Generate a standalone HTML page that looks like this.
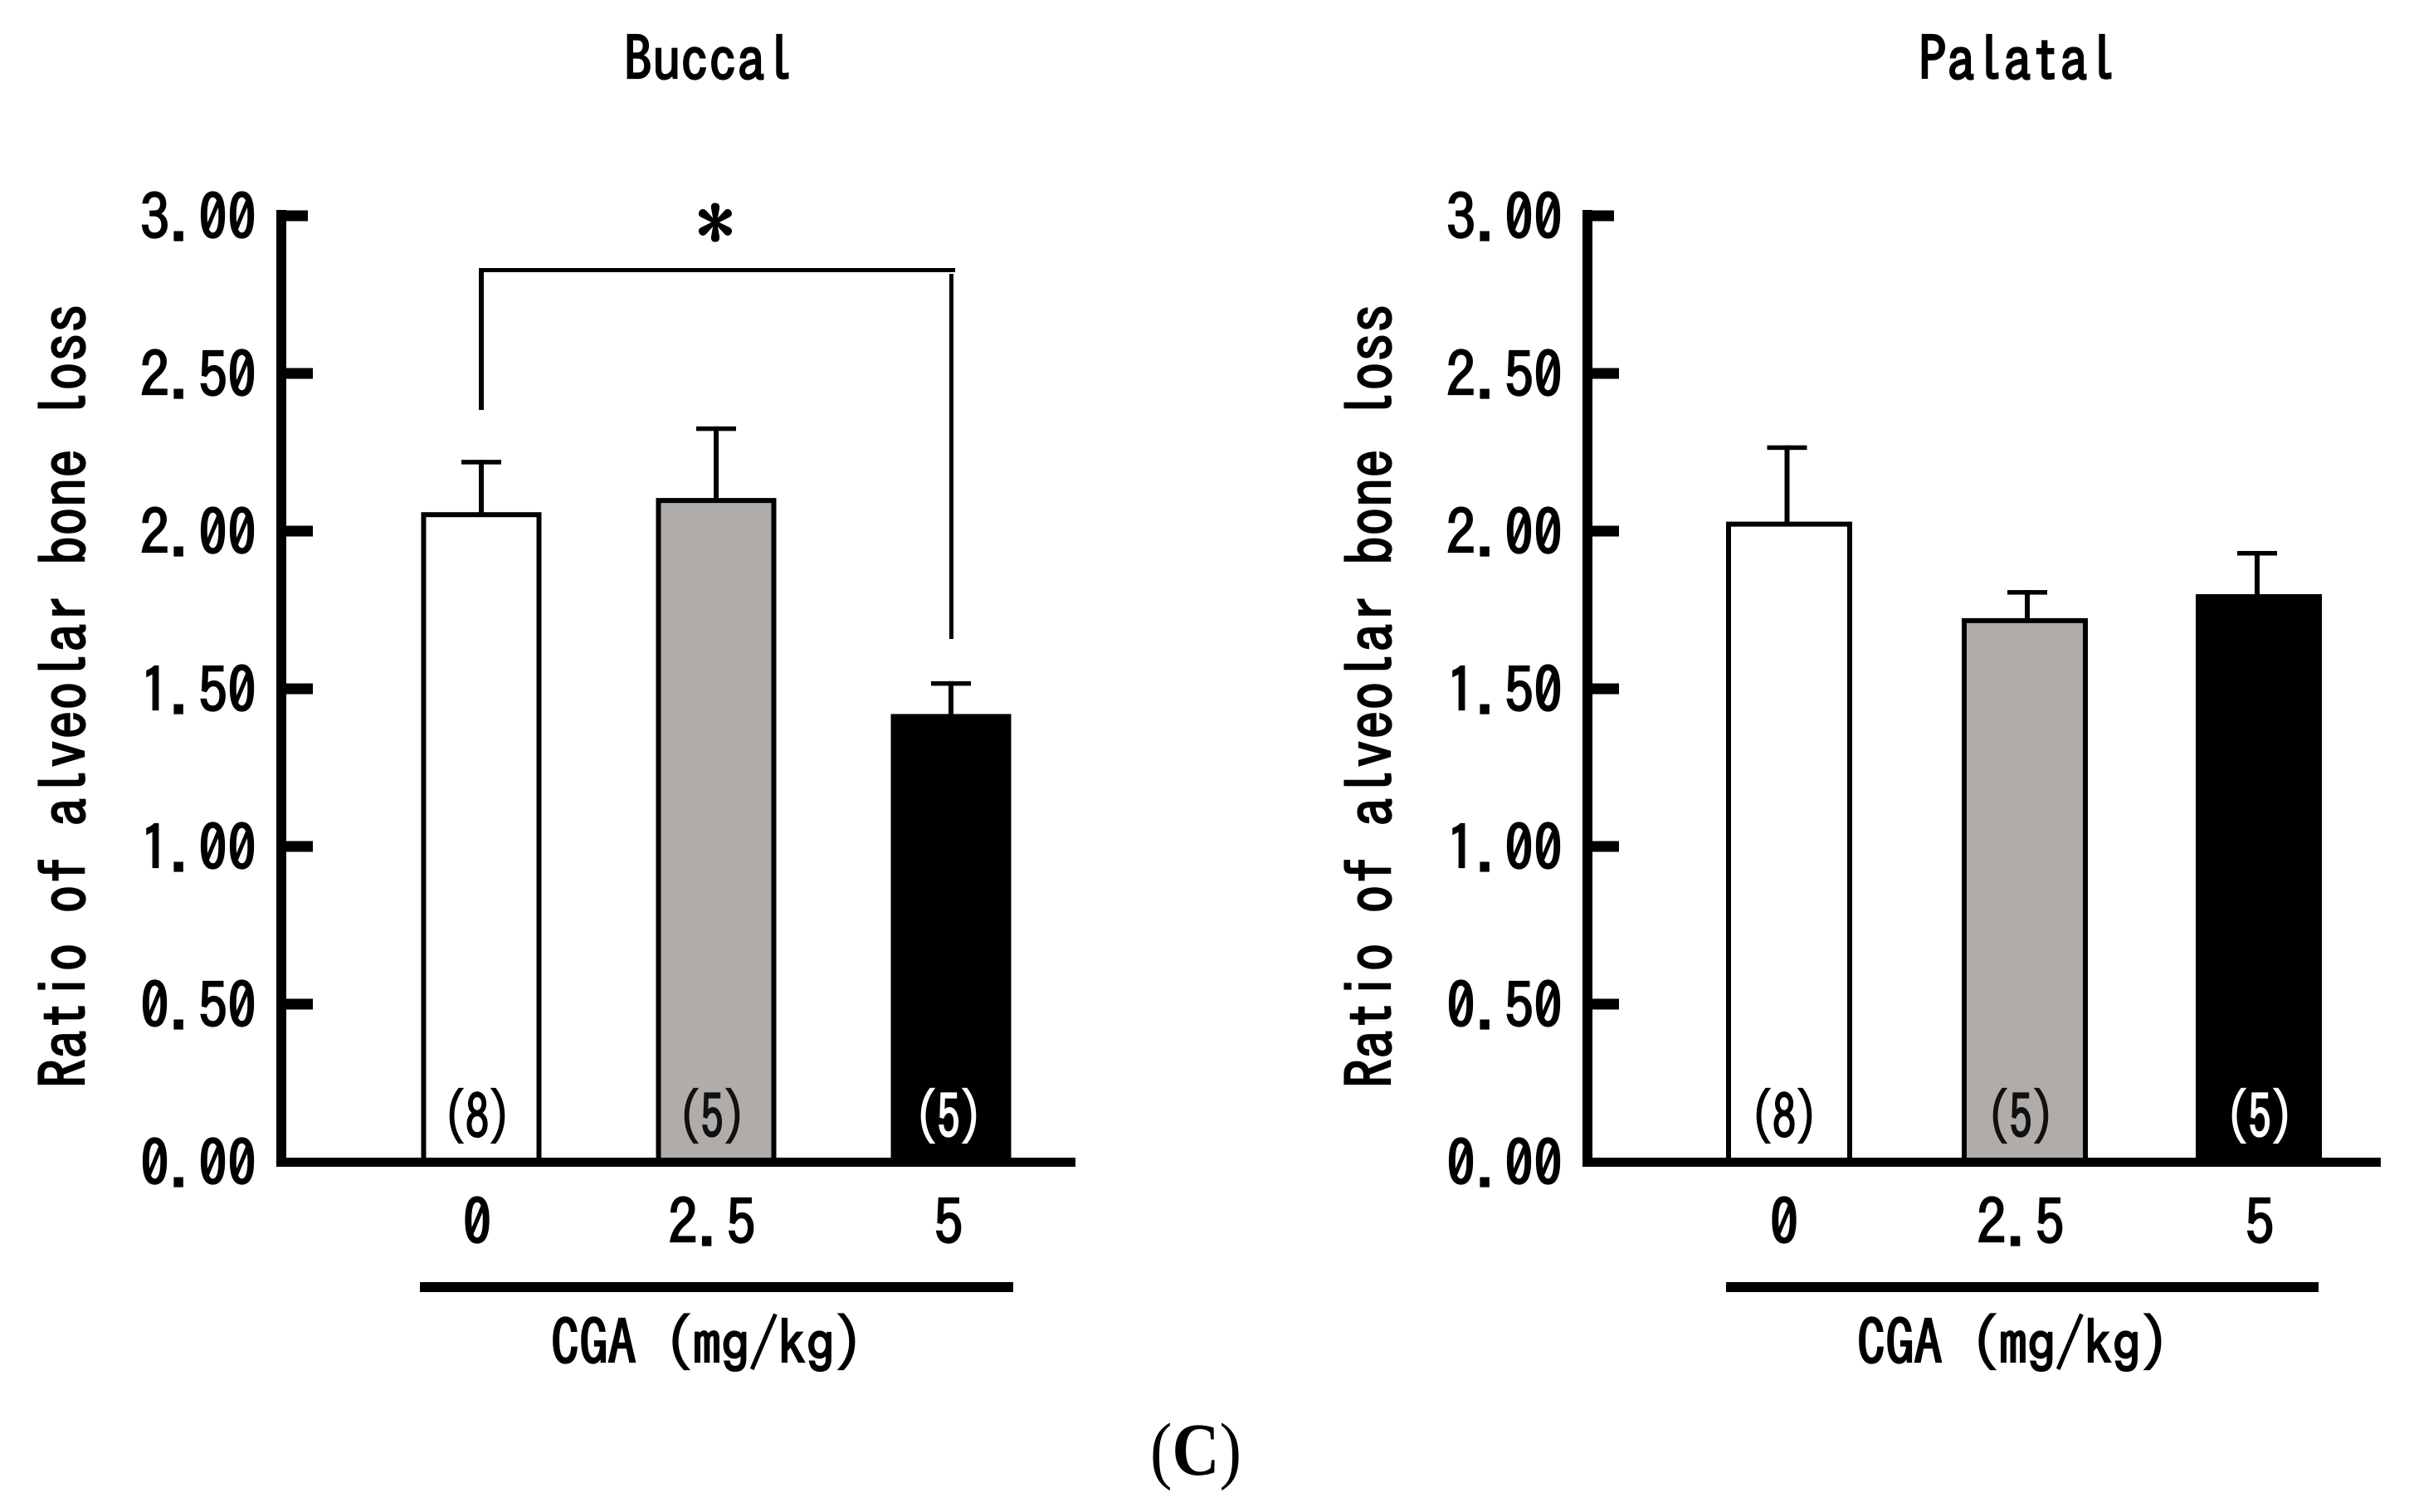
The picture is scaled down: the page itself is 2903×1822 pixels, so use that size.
<!DOCTYPE html>
<html lang="en">
<head>
<meta charset="utf-8">
<title>Ratio of alveolar bone loss (C)</title>
<style>
html,body{margin:0;padding:0;background:#fff;}
svg{display:block;}
text{font-family:"IPAGothic","Liberation Mono",monospace;fill:#000;}
.t{stroke:#000;stroke-width:2.2px;}
</style>
</head>
<body>
<svg id="chart" xmlns="http://www.w3.org/2000/svg" width="2903" height="1822" viewBox="0 0 2903 1822">
<rect x="0" y="0" width="2903" height="1822" fill="#ffffff"/>
<text x="1441" y="1777" text-anchor="middle" textLength="110" lengthAdjust="spacingAndGlyphs" style="font-family:'Liberation Serif',serif;font-size:90px;">(<tspan font-weight="bold">C</tspan>)</text>
</svg>
<script>
var categories = ['0', '2.5', '5'];
var sampleSizes = ['(8)', '(5)', '(5)'];
var tickValues = [0, 0.5, 1, 1.5, 2, 2.5, 3];
var tickLabels = ['0.00', '0.50', '1.00', '1.50', '2.00', '2.50', '3.00'];
var buccalMeans = [2.06, 2.105, 1.42];
var buccalErrors = [0.166, 0.227, 0.104];
var palatalMeans = [2.03, 1.724, 1.80];
var palatalErrors = [0.242, 0.089, 0.137];
var barFills = ['#ffffff', '#b0acaa', '#000000'];
var labelFills = ['#000000', '#111111', '#ffffff'];

var svg = document.getElementById('chart');
var NS = 'http://www.w3.org/2000/svg';

function yScale(v) { return 1400 - 380 * v; }

function mk(tag, name, attrs) {
  var el = document.createElementNS(NS, tag);
  
  
  for (var k in attrs) { el.setAttribute(k, attrs[k]); }
  svg.appendChild(el);
  return el;
}
function box(name, x0, y0, x1, y1, fill) {
  return mk('rect', name, { x: x0, y: y0, width: x1 - x0, height: y1 - y0, fill: fill || '#000' });
}
function label(name, str, x, y, size, len, anchor, fill) {
  var el = mk('text', name, { x: x, y: y, 'font-size': size, 'text-anchor': anchor || 'start', textLength: len, lengthAdjust: 'spacingAndGlyphs', 'class': 't' });
  el.textContent = str;
  if (fill) { el.style.fill = fill; el.style.stroke = fill; }
  return el;
}

function drawPanel(p) {
  var dx = p.axisX;
  label(p.id + '-title', p.title, p.titleX, 98, 74, p.titleLen);
  // y axis
  box(p.id + '-y-axis', dx - 6, 253, dx + 6, 1406);
  tickValues.forEach(function (v, i) {
    var y = yScale(v);
    var len = v === 3 ? 32 : 38;
    if (v !== 0) { box(p.id + '-y-tick-' + tickLabels[i], dx, y - 6.5, dx + len, y + 6.5); }
    label(p.id + '-y-tick-label-' + tickLabels[i], tickLabels[i], dx - 170, y + 29, 74, 140);
  });
  // y title
  var yt = label(p.id + '-y-axis-title', 'Ratio of alveolar bone loss', 0, 0, 78, 945);
  yt.setAttribute('transform', 'translate(' + (dx - 234) + ',1311) rotate(-90)');
  // bars
  p.means.forEach(function (m, i) {
    var c = p.centers[i];
    var top = yScale(m);
    var capTop = yScale(m + p.errors[i]);
    var sc = p.stemCenters[i];
    var lc = p.labelCenters[i];
    box(p.id + '-error-stem-' + i, sc - 3, capTop, sc + 3, top + 3);
    box(p.id + '-error-cap-' + i, sc - 24, capTop, sc + 24, capTop + 5.5);
    var bw = p.barWidth;
    mk('rect', p.id + '-bar-' + categories[i], { x: c - bw / 2 + 3, y: top + 3, width: bw - 6, height: 1398 - top, fill: barFills[i], stroke: '#000', 'stroke-width': 6 });
    label(p.id + '-sample-size-' + i, sampleSizes[i], lc - 41, 1372, 72, 82, 'start', labelFills[i]);
    var half = categories[i].length * 17.5;
    label(p.id + '-x-tick-label-' + categories[i], categories[i], lc - half, 1500, 74, half * 2);
  });
  // x axis + dose bar + dose title
  box(p.id + '-x-axis', dx - 6, 1395, p.axisEnd, 1406);
  box(p.id + '-dose-bar', p.doseX0, 1545, p.doseX1, 1557);
  label(p.id + '-dose-title', 'CGA (mg/kg)', p.doseTitleX, 1645, 74, 376);
}

drawPanel({
  id: 'buccal', title: 'Buccal', titleX: 752, titleLen: 204, axisX: 339, axisEnd: 1296,
  centers: [580, 863, 1146], stemCenters: [580, 863, 1146], labelCenters: [575, 858, 1143],
  barWidth: 145, means: buccalMeans, errors: buccalErrors,
  doseX0: 506, doseX1: 1221, doseTitleX: 664
});
drawPanel({
  id: 'palatal', title: 'Palatal', titleX: 2312, titleLen: 238, axisX: 1913, axisEnd: 2869,
  centers: [2156, 2440, 2722], stemCenters: [2153.5, 2443, 2720], labelCenters: [2150, 2435, 2723],
  barWidth: 152, means: palatalMeans, errors: palatalErrors,
  doseX0: 2080, doseX1: 2794, doseTitleX: 2238
});

// significance bracket
box('bracket-top', 577, 323, 1151, 328);
box('bracket-left', 577, 323, 583, 494);
box('bracket-right', 1144, 330, 1149, 770);
var star = mk('text', 'significance-asterisk', { x: 862, y: 302, 'font-size': 90, 'text-anchor': 'middle', 'class': 't' });
star.textContent = '*';
</script>
</body>
</html>
